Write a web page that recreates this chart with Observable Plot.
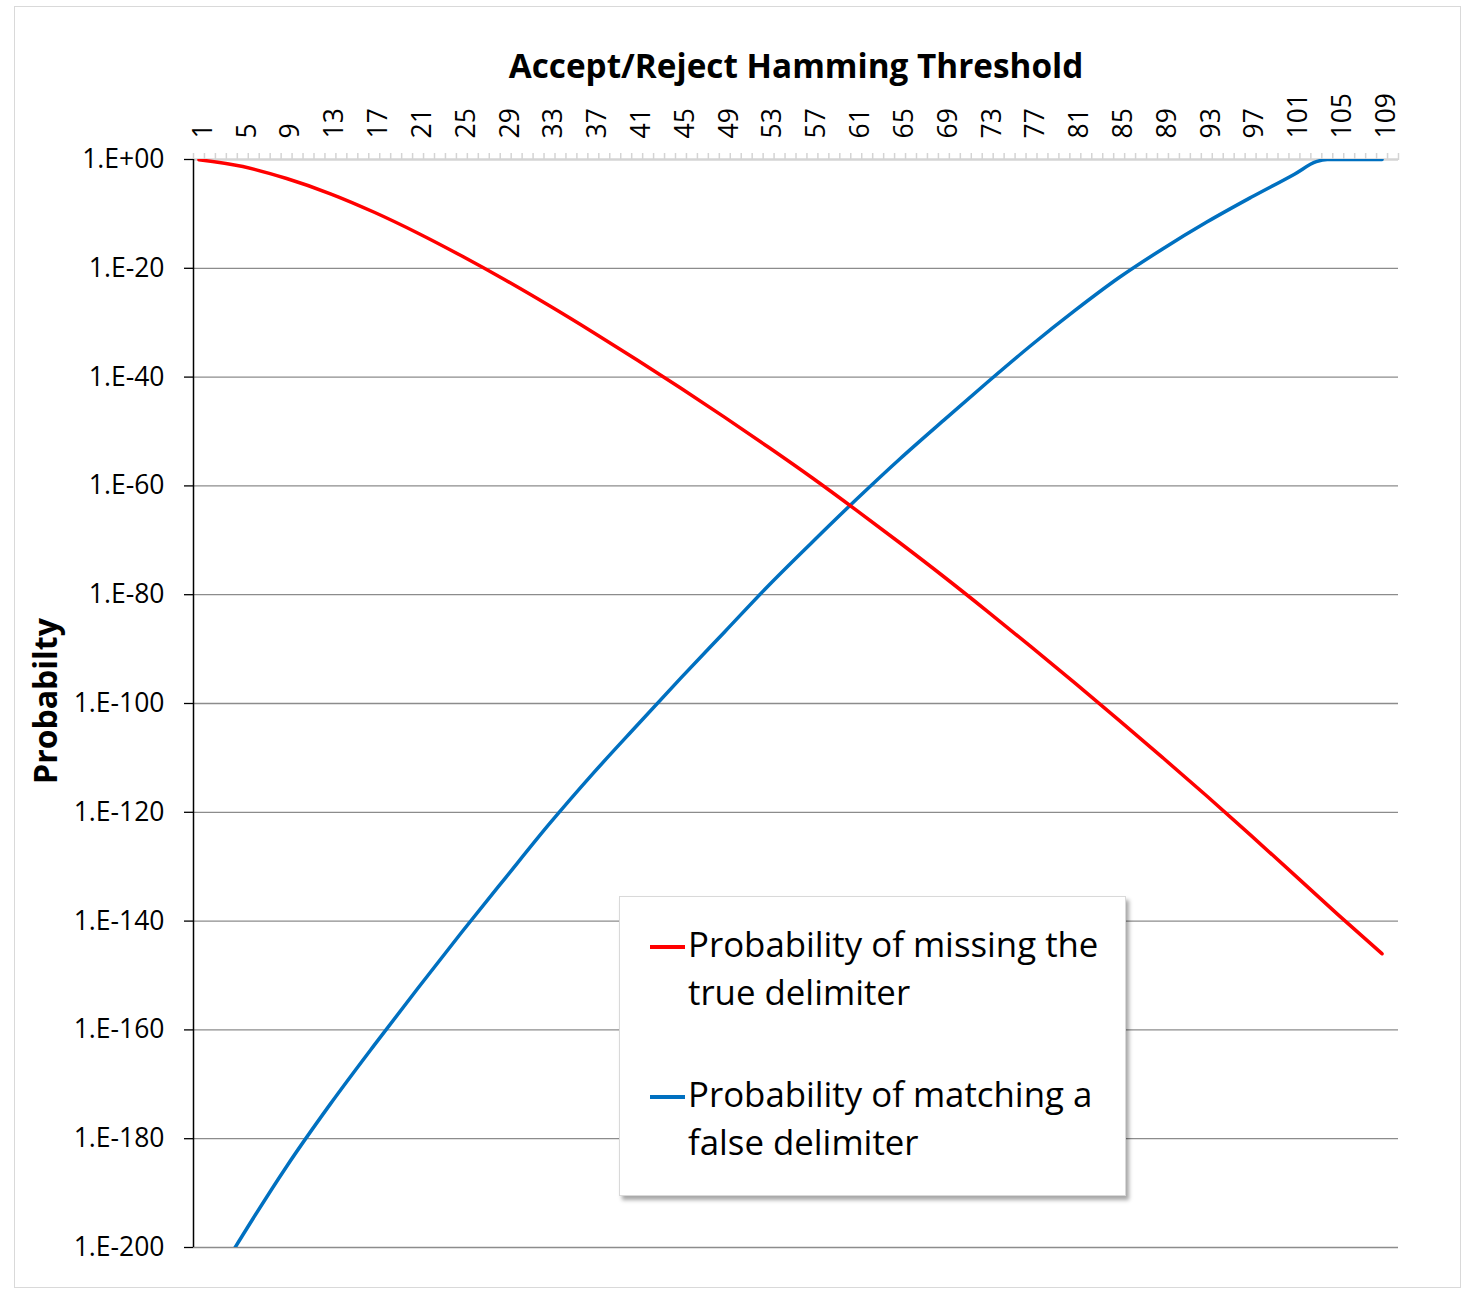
<!DOCTYPE html>
<html>
<head>
<meta charset="utf-8">
<script src="https://cdn.jsdelivr.net/npm/d3@7"></script>
<script src="https://cdn.jsdelivr.net/npm/@observablehq/plot@0.6"></script>
<style>
  html, body { margin: 0; padding: 0; background: #ffffff; }
  #wrap { position: relative; width: 1468px; height: 1290px; overflow: hidden; font-family: "Open Sans", sans-serif; color: #000; }
  #frame { position: absolute; left: 14px; top: 6px; width: 1447px; height: 1282px; border: 1.5px solid #d9d9d9; box-sizing: border-box; }
  #chart { position: absolute; left: 0; top: 0; }
  #title { position: absolute; left: 396px; top: 49px; width: 800px; text-align: center; font-weight: 700; font-size: 33.3px; line-height: 33px; white-space: nowrap; }
  #ytitle { position: absolute; left: -105px; top: 681px; width: 300px; height: 40px; line-height: 40px; text-align: center; font-weight: 700; font-size: 32px; transform: rotate(-90deg); white-space: nowrap; }
  #legend { position: absolute; left: 619px; top: 896px; width: 507px; height: 300px; box-sizing: border-box; background: #fff; border: 1px solid #d9d9d9; box-shadow: 3px 4px 4px rgba(0,0,0,0.35); }
  .lg-line { position: absolute; left: 30px; width: 35px; height: 3.5px; }
  .lg-text { position: absolute; left: 68px; font-size: 34.8px; line-height: 48px; white-space: nowrap; }
</style>
</head>
<body>
<div id="wrap">
  <div id="frame"></div>
  <div id="chart"></div>
  <div id="title"></div>
  <div id="ytitle"></div>
  <div id="legend"></div>
</div>
<script>
// ---- data (log10 of probability) ----
const xTickLabels = [1, 5, 9, 13, 17, 21, 25, 29, 33, 37, 41, 45, 49, 53, 57, 61, 65, 69, 73, 77, 81, 85, 89, 93, 97, 101, 105, 109];
const yTickExponents = [0, -20, -40, -60, -80, -100, -120, -140, -160, -180, -200];

const missCats = [1, 5, 9, 13, 17, 21, 25, 29, 33, 37, 41, 45, 49, 53, 57, 61, 65, 69, 73, 77, 81, 85, 89, 93, 97, 101, 105, 109];
const missLog10 = [-0.05, -1.3, -3.5, -6.3, -9.7, -13.55, -17.75, -22.2, -26.9, -31.8, -36.85, -42.05, -47.4, -52.9, -58.55, -64.45, -70.5, -76.7, -83.1, -89.65, -96.3, -103.1, -110.0, -117.0, -124.2, -131.5, -138.85, -146.0];

const matchCats = [1, 5, 9, 13, 17, 21, 25, 29, 33, 37, 41, 45, 49, 53, 57, 61, 65, 69, 73, 77, 81, 85, 89, 93, 97, 101, 103, 104, 105, 109];
const matchLog10 = [-211, -197.7, -185.1, -173.6, -162.8, -152.3, -142.0, -132.0, -122.1, -112.8, -104.0, -95.3, -86.8, -78.3, -70.3, -62.5, -55.0, -47.9, -40.9, -34.1, -27.7, -21.7, -16.4, -11.5, -7.0, -2.7, -0.4, 0, 0, 0];

const seriesNames = ["Probability of missing the\ntrue delimiter", "Probability of matching a\nfalse delimiter"];
const seriesColors = ["#ff0000", "#0070c0"];
const titleText = "Accept/Reject Hamming Threshold";
const yTitleText = "Probabilty";
const nCategories = 110;

// ---- build tables ----
const missData = missCats.map((c, i) => ({cat: c, p: Math.pow(10, missLog10[i])}));
const matchData = matchCats.map((c, i) => ({cat: c, p: Math.pow(10, matchLog10[i])}));
const yTicks = yTickExponents.map(e => Math.pow(10, e));
const boundaries = d3.range(0, nCategories + 1).map(i => i + 0.5);
const fmtY = d => {
  const e = Math.round(Math.log10(d));
  return "1.E" + (e >= 0 ? "+" : "-") + String(Math.abs(e)).padStart(2, "0");
};

const W = 1468, H = 1290;
const chart = Plot.plot({
  width: W,
  height: H,
  marginLeft: 193,
  marginRight: 70,
  marginTop: 159,
  marginBottom: 43,
  style: {fontFamily: '"Open Sans", sans-serif', color: "#000", background: "transparent", overflow: "visible"},
  x: {type: "linear", domain: [0.5, nCategories + 0.5]},
  y: {type: "log", domain: [1e-200, 1]},
  marks: [
    Plot.ruleY(yTicks.slice(1), {stroke: "#8c8c8c", strokeWidth: 1.3}),
    Plot.axisX({anchor: "top", ticks: boundaries, tickSize: 7, tickFormat: () => "", stroke: "#d4d4d4", strokeWidth: 1.5, label: null}),
    Plot.ruleY([1], {stroke: "#d4d4d4", strokeWidth: 2.5}),
    Plot.text(xTickLabels, {x: d => d, text: d => String(d), frameAnchor: "top", dy: -21, dx: -6, rotate: -90, textAnchor: "start", fontSize: 26.5, fill: "#000"}),
    Plot.axisY({ticks: yTicks, tickFormat: fmtY, tickSize: 9, tickPadding: 20, fontSize: 26.5, label: null, stroke: "#000", strokeWidth: 1.3}),
    Plot.ruleX([0.5], {stroke: "#000", strokeWidth: 1.5}),
    Plot.line(matchData, {x: "cat", y: "p", stroke: seriesColors[1], strokeWidth: 3.5, curve: "monotone-x", clip: true}),
    Plot.line(missData, {x: "cat", y: "p", stroke: seriesColors[0], strokeWidth: 3.5, curve: "monotone-x", clip: true})
  ]
});
document.getElementById("chart").appendChild(chart);

document.getElementById("title").textContent = titleText;
document.getElementById("ytitle").textContent = yTitleText;

const legend = document.getElementById("legend");
const lineTops = [48, 198];
const textTops = [23, 173];
seriesNames.forEach((name, i) => {
  const ln = document.createElement("div");
  ln.className = "lg-line";
  ln.style.top = lineTops[i] + "px";
  ln.style.background = seriesColors[i];
  legend.appendChild(ln);
  const tx = document.createElement("div");
  tx.className = "lg-text";
  tx.style.top = textTops[i] + "px";
  name.split("\n").forEach((part, j) => {
    if (j) tx.appendChild(document.createElement("br"));
    tx.appendChild(document.createTextNode(part));
  });
  legend.appendChild(tx);
});
</script>
</body>
</html>
